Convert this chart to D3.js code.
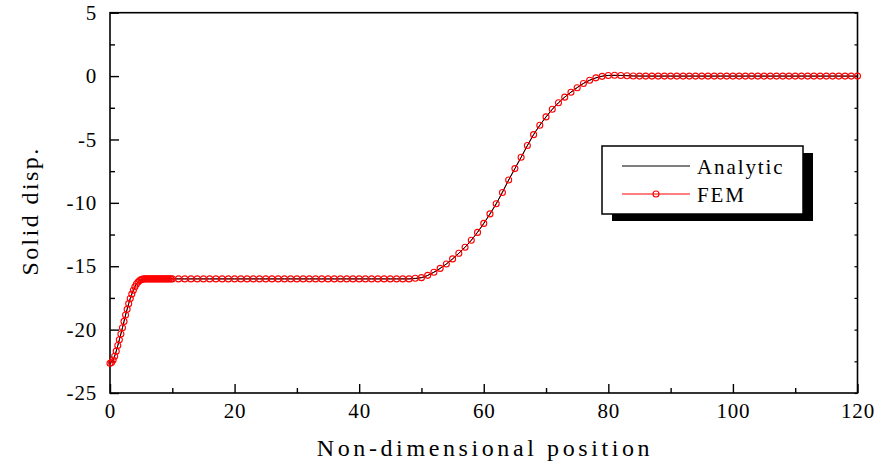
<!DOCTYPE html>
<html>
<head>
<meta charset="utf-8">
<script src="https://cdn.jsdelivr.net/npm/d3@7"></script>
<style>
  html, body { margin: 0; padding: 0; background: #fff; }
  svg { display: block; }
  text { font-family: "Liberation Serif", "Times New Roman", serif; fill: #000; }
</style>
</head>
<body>
<svg id="chart" width="880" height="470"></svg>
<script>
// FEM nodal positions and computed solid displacement
const femX = [
  0, 0.25, 0.5, 0.75, 1, 1.25, 1.5, 1.75, 2, 2.25, 2.5, 2.75, 3, 3.25, 3.5, 3.75,
  4, 4.25, 4.5, 4.75, 5, 5.25, 5.5, 5.75, 6, 6.25, 6.5, 6.75, 7, 7.25, 7.5, 7.75,
  8, 8.25, 8.5, 8.75, 9, 9.25, 9.5, 9.75, 10,
  11, 12, 13, 14, 15, 16, 17, 18, 19, 20, 21, 22, 23, 24, 25, 26, 27, 28, 29, 30,
  31, 32, 33, 34, 35, 36, 37, 38, 39, 40, 41, 42, 43, 44, 45, 46, 47, 48, 49, 50,
  51, 52, 53, 54, 55, 56, 57, 58, 59, 60, 61, 62, 63, 64, 65, 66,
  67, 68, 69, 70, 71, 72, 73, 74, 75, 76, 77, 78, 79, 80, 81, 82,
  83, 84, 85, 86, 87, 88, 89, 90, 91, 92, 93, 94, 95, 96, 97, 98, 99, 100, 101, 102,
  103, 104, 105, 106, 107, 108, 109, 110, 111, 112, 113, 114, 115, 116, 117, 118, 119, 120
];
const femDisp = [
  -22.65, -22.6, -22.4, -22.1, -21.7, -21.25, -20.8, -20.35, -19.85, -19.35, -18.85, -18.4, -17.95, -17.55, -17.2, -16.9,
  -16.62, -16.4, -16.25, -16.13, -16.06, -16.02, -16.0, -16, -16, -16, -16, -16, -16, -16, -16, -16,
  -16, -16, -16, -16, -16, -16, -16, -16, -16,
  -16, -16, -16, -16, -16, -16, -16, -16, -16, -16, -16, -16, -16, -16, -16, -16, -16, -16, -16, -16,
  -16, -16, -16, -16, -16, -16, -16, -16, -16, -16, -16, -16, -16, -16, -16, -16, -16, -16.0, -15.95, -15.9,
  -15.72, -15.47, -15.17, -14.82, -14.42, -13.98, -13.5, -12.95, -12.33, -11.62, -10.87, -10.07, -9.18, -8.2, -7.3, -6.4,
  -5.48, -4.62, -3.88, -3.22, -2.62, -2.1, -1.66, -1.27, -0.92, -0.58, -0.33, -0.14, -0.02, 0.05, 0.07, 0.05,
  0.03, 0.01, 0, 0, 0, 0, 0, 0, 0, 0, 0, 0, 0, 0, 0, 0, 0, 0, 0, 0,
  0, 0, 0, 0, 0, 0, 0, 0, 0, 0, 0, 0, 0, 0, 0, 0, 0, 0
];

// Analytic solution sampled along the bar
const analyticX = [
  0, 0.5, 1, 1.5, 2, 2.5, 3, 3.5, 4, 4.5, 5, 5.5, 6, 7, 8, 9, 10,
  12, 14, 16, 18, 20, 22, 24, 26, 28, 30, 32, 34, 36, 38, 40, 42, 44, 46, 48, 50,
  52, 54, 56, 58, 60, 62, 64, 66, 68, 70, 72, 74, 76, 78, 80, 82, 84, 86, 88, 90,
  92, 94, 96, 98, 100, 102, 104, 106, 108, 110, 112, 114, 116, 118, 120
];
const analyticDisp = [
  -22.65, -22.4, -21.7, -20.8, -19.85, -18.85, -17.95, -17.2, -16.62, -16.25, -16.06, -16.0, -16, -16, -16, -16, -16,
  -16, -16, -16, -16, -16, -16, -16, -16, -16, -16, -16, -16, -16, -16, -16, -16, -16, -16, -16.0, -15.9,
  -15.47, -14.82, -13.98, -12.95, -11.62, -10.07, -8.2, -6.4, -4.62, -3.22, -2.1, -1.27, -0.58, -0.14, 0.05, 0.05, 0.01, 0, 0, 0,
  0, 0, 0, 0, 0, 0, 0, 0, 0, 0, 0, 0, 0, 0, 0
];

const xMajorTicks = [0, 20, 40, 60, 80, 100, 120];
const xMinorTicks = [10, 30, 50, 70, 90, 110];
const yMajorTicks = [5, 0, -5, -10, -15, -20, -25];
const yMinorTicks = [2.5, -2.5, -7.5, -12.5, -17.5, -22.5];

const seriesNames = ["Analytic", "FEM"];
const xTitle = "Non-dimensional position";
const yTitle = "Solid disp.";

const svg = d3.select("#chart");
const plot = { left: 110, right: 857.5, top: 12.7, bottom: 393 };

const x = d3.scaleLinear().domain([0, 120]).range([plot.left, plot.right]);
const y = d3.scaleLinear().domain([-25, 5]).range([plot.bottom, plot.top]);

const tickFont = { size: "21px", spacing: "0.8px" };
const markerRadius = 3;

function styleTicks(g, width) {
  g.select(".domain").remove();
  g.selectAll("line").attr("stroke", "#000").attr("stroke-width", width);
}
function styleLabels(g) {
  g.selectAll("text")
    .attr("fill", "#000")
    .style("font-family", '"Liberation Serif", serif')
    .style("font-size", tickFont.size)
    .style("letter-spacing", tickFont.spacing);
}

// Minor ticks (inward, no labels)
svg.append("g")
  .attr("transform", `translate(0,${plot.bottom})`)
  .call(d3.axisBottom(x).tickValues(xMinorTicks).tickSize(-5).tickFormat(""))
  .call(g => styleTicks(g, 1.4));
svg.append("g")
  .attr("transform", `translate(${plot.left},0)`)
  .call(d3.axisLeft(y).tickValues(yMinorTicks).tickSize(-5).tickFormat(""))
  .call(g => styleTicks(g, 1.4));

// Major ticks with labels
svg.append("g")
  .attr("transform", `translate(0,${plot.bottom})`)
  .call(d3.axisBottom(x).tickValues(xMajorTicks).tickSize(-9).tickPadding(10).tickFormat(d => String(d)))
  .call(g => styleTicks(g, 1.4))
  .call(styleLabels);

svg.append("g")
  .attr("transform", `translate(${plot.left},0)`)
  .call(d3.axisLeft(y).tickValues(yMajorTicks).tickSize(-9).tickPadding(13).tickFormat(d => String(d)))
  .call(g => styleTicks(g, 1.4))
  .call(styleLabels);

// Small inward ticks on the right-hand frame
svg.append("g")
  .attr("transform", `translate(${plot.right},0)`)
  .call(d3.axisRight(y).tickValues(yMajorTicks.concat(yMinorTicks)).tickSize(-3).tickFormat(""))
  .call(g => styleTicks(g, 1.2));

// Plot frame
svg.append("rect")
  .attr("x", plot.left).attr("y", plot.top)
  .attr("width", plot.right - plot.left).attr("height", plot.bottom - plot.top)
  .attr("fill", "none").attr("stroke", "#000").attr("stroke-width", 1.6);

// Curves
const femPoints = femX.map((v, i) => [v, femDisp[i]]);
const analyticPoints = analyticX.map((v, i) => [v, analyticDisp[i]]);

const femLine = d3.line().x(d => x(d[0])).y(d => y(d[1]));
const analyticLine = d3.line().x(d => x(d[0])).y(d => y(d[1])).curve(d3.curveMonotoneX);

svg.append("path")
  .datum(femPoints)
  .attr("d", femLine)
  .attr("fill", "none").attr("stroke", "#ff0000").attr("stroke-width", 1);

svg.append("path")
  .datum(analyticPoints)
  .attr("d", analyticLine)
  .attr("fill", "none").attr("stroke", "#000").attr("stroke-width", 1);

svg.append("g")
  .selectAll("circle")
  .data(femPoints)
  .join("circle")
  .attr("cx", d => x(d[0]))
  .attr("cy", d => y(d[1]))
  .attr("r", markerRadius)
  .attr("fill", "none")
  .attr("stroke", "#ff0000")
  .attr("stroke-width", 1.1);

// Axis titles
svg.append("text")
  .attr("x", 485).attr("y", 456)
  .attr("text-anchor", "middle")
  .style("font-size", "24px")
  .style("letter-spacing", "3.6px")
  .text(xTitle);

svg.append("text")
  .attr("transform", "translate(38,211) rotate(-90)")
  .attr("text-anchor", "middle")
  .style("font-size", "24px")
  .style("letter-spacing", "2.4px")
  .text(yTitle);

// Legend with drop shadow
const legend = svg.append("g").attr("transform", "translate(602,146)");
legend.append("rect")
  .attr("x", 10).attr("y", 7).attr("width", 201).attr("height", 68)
  .attr("fill", "#000");
legend.append("rect")
  .attr("x", 0).attr("y", 0).attr("width", 201).attr("height", 68)
  .attr("fill", "#fff").attr("stroke", "#000").attr("stroke-width", 1.5);

const legendColors = { "Analytic": "#000", "FEM": "#ff0000" };
const items = legend.selectAll("g.item")
  .data(seriesNames)
  .join("g")
  .attr("class", "item")
  .attr("transform", (d, i) => `translate(0,${20 + i * 28})`);

items.append("line")
  .attr("x1", 20).attr("x2", 88).attr("y1", 0).attr("y2", 0)
  .attr("stroke", d => legendColors[d]).attr("stroke-width", 1);
items.filter(d => d === "FEM").append("circle")
  .attr("cx", 54).attr("cy", 0).attr("r", markerRadius)
  .attr("fill", "none").attr("stroke", "#ff0000").attr("stroke-width", 1.1);
items.append("text")
  .attr("x", 95).attr("y", 8)
  .style("font-size", "21px")
  .style("letter-spacing", "1.9px")
  .text(d => d);
</script>
</body>
</html>
